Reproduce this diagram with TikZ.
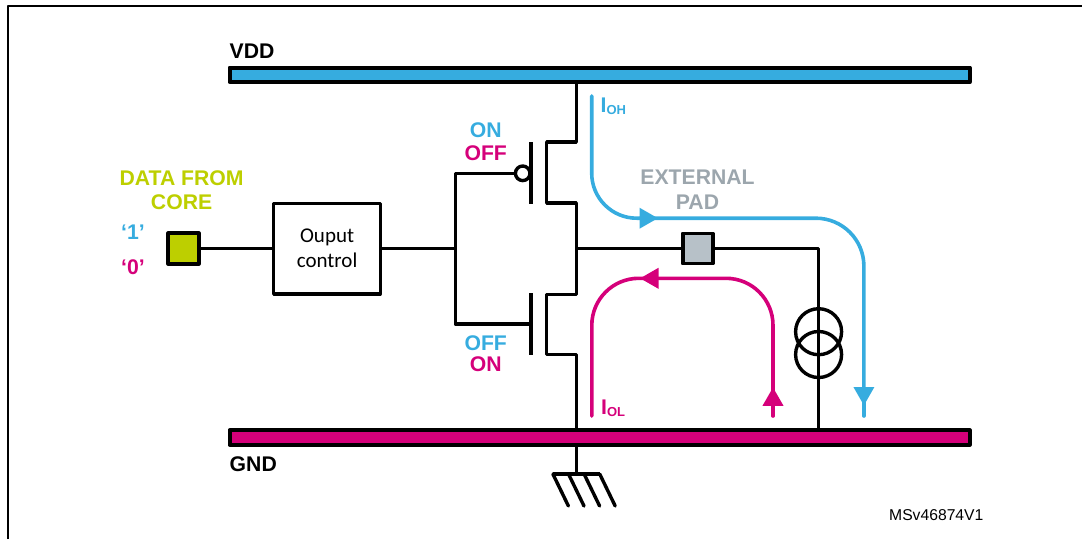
\documentclass[tikz,border=0pt]{standalone}
\usepackage{xcolor}
\usepackage{fontspec}
\setmainfont{Liberation Sans}
\newfontfamily\ctrlfont{Carlito}
\usetikzlibrary{arrows.meta,calc}
\definecolor{vddblue}{HTML}{36ACDF}
\definecolor{gndpink}{HTML}{D5007A}
\definecolor{corelime}{HTML}{BDCF00}
\definecolor{padgray}{HTML}{B7C1C8}
\definecolor{padtext}{HTML}{9CA6AD}

\begin{document}
\begin{tikzpicture}[x=1pt, y=-1pt, line width=3.4pt, line join=round,
  every node/.style={inner sep=0pt},
  rail/.style={draw, line width=4pt, minimum width=740.2pt, minimum height=14.5pt},
  pad/.style={draw, line width=3.8pt, minimum size=30pt},
  lbl/.style={font=\fontsize{21.2}{24.6}\selectfont\bfseries, align=center},
  cur/.style={line width=3.6pt, line cap=round},
  tipr/.style={-{Triangle[width=20pt,length=18.5pt]}}]
\useasboundingbox (0,0) rectangle (1082,539);
\draw[line width=2.2pt] (8,539) -- (8,6) -- (1082,6);

\node(vdd)[rail, fill=vddblue] at (599.6,74.75) {};
\node(gnd)[rail, fill=gndpink] at (599.6,437.5) {};
\node(vddl)[lbl, anchor=base west] at (228,58) {VDD};
\node(gndl)[lbl, anchor=base west] at (228,471) {GND};

\node(in)[pad, fill=corelime, minimum size=30.4pt] at (183.5,248.5) {};
\node(ctrl)[draw, minimum width=106.7pt, minimum height=90.6pt, font=\ctrlfont\fontsize{21}{25.4}\selectfont, align=center] at (327.1,248.5) {Ouput\\control};
\node(ext)[pad, fill=padgray] at (697.7,248.5) {};

\node(data)[lbl, text=corelime] at (181.6,190) {DATA FROM\\CORE};
\node(one)[lbl, text=vddblue] at (133,232.7) {‘1’};
\node(zero)[lbl, text=gndpink] at (133,267.3) {‘0’};
\node(on1)[lbl, text=vddblue] at (485.7,130) {ON};
\node(off1)[lbl, text=gndpink] at (485.7,153.3) {OFF};
\node(off2)[lbl, text=vddblue] at (485.7,342.7) {OFF};
\node(on2)[lbl, text=gndpink] at (485.7,364.3) {ON};
\node(extl)[lbl, text=padtext] at (697.5,190) {EXTERNAL\\PAD};
\node(ms)[font=\fontsize{15.7}{18}\selectfont] at (936.3,515) {MSv46874V1};

\coordinate(d) at (576.3,248.5);
\coordinate(f) at (455.3,248.5);
\coordinate(gp) at (531,173.3);
\coordinate(gn) at (531,324);
\coordinate(g) at (576.3,474);

% mos pair
\draw (d |- vdd.south) -- ++(0,58) -- ++(-29.6,0) -- ++(0,61) -- ++(29.6,0) -- ++(0,91.7) -- ++(-29.6,0) -- ++(0,59.6) -- ++(29.6,0) -- (d |- gnd.north);
\draw (gp) ++(0,-31.3) -- ++(0,61.7);
\draw (gn) ++(0,-31) -- ++(0,62);
\node(bub)[draw, circle, fill=white, minimum size=14.6pt] at (522.7,173.3) {};

\draw (in) -- (ctrl);
\draw (ctrl) -- (f);
\draw (bub.west) -- (f |- bub) -- (f |- gn) -- (gn);
\draw (d) -- (ext);

\node(t1)[draw, circle, minimum size=46pt] at (818.6,331.7) {};
\node(t2)[draw, circle, minimum size=46pt] at (818.6,354.5) {};
\draw (ext) -| (t1 |- gnd.north);

% ground
\draw (d |- gnd.south) -- (g);
\draw (g) ++(-23.4,0) -- ++(46.7,0);
\foreach \i in {0,1,2,3} {
  \draw[line cap=round] (g) ++(-23.4+15.6*\i,0) -- ++(15.5,32);
}

\begin{scope}[vddblue]
\coordinate(oh) at (591.7,96);
\coordinate(oh2) at (863.9,416);
\draw[cur, tipr, rounded corners=45pt] (oh) |- (658,218.2);
\draw[cur, tipr, rounded corners=48pt] (640,218.2) -| (863.9,405.5);
\draw[cur] (863.9,400) -- (oh2);
\node(ioh)[lbl, anchor=base west, text=vddblue] at (599,112) {I\raisebox{-2pt}{\fontsize{13}{13}\selectfont OH}};
\end{scope}

\begin{scope}[gndpink]
\coordinate(ol) at (591.8,416);
\coordinate(ol2) at (773,416);
\draw[cur, tipr] (ol2) -- (773,387.3);
\draw[cur, tipr, rounded corners=47pt] (773,395) |- (640,278.3);
\draw[cur, rounded corners=47pt] (650,278.3) -| (ol);
\node(iol)[lbl, anchor=base west, text=gndpink] at (599.5,414) {I\raisebox{-2.5pt}{\fontsize{13}{13}\selectfont OL}};
\end{scope}
\end{tikzpicture}
\end{document}
